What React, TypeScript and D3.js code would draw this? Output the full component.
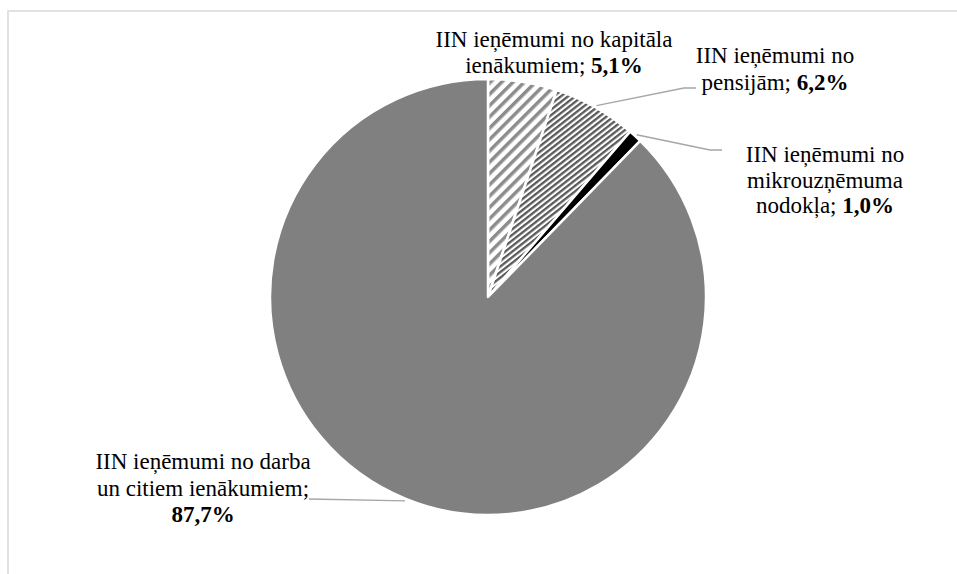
import React from "react";
import * as d3 from "d3";

const categories = [
  "IIN ieņēmumi no kapitāla ienākumiem",
  "IIN ieņēmumi no pensijām",
  "IIN ieņēmumi no mikrouzņēmuma nodokļa",
  "IIN ieņēmumi no darba un citiem ienākumiem",
];
const values = [5.1, 6.2, 1.0, 87.7];
const valueLabels = ["5,1%", "6,2%", "1,0%", "87,7%"];
const labelLines: string[][] = [
  ["IIN ieņēmumi no kapitāla", "ienākumiem;"],
  ["IIN ieņēmumi no", "pensijām;"],
  ["IIN ieņēmumi no", "mikrouzņēmuma", "nodokļa;"],
  ["IIN ieņēmumi no darba", "un citiem ienākumiem;", ""],
];

// layout (not data)
const W = 957;
const H = 574;
const CX = 488;
const CY = 297;
const R = 218;
const FONT = 23;
const labelPos = [
  { x: 554, y: 47, lh: 26 },
  { x: 775, y: 63, lh: 27 },
  { x: 825, y: 162, lh: 25.5 },
  { x: 203, y: 469, lh: 26.5 },
];
const leaderEnds: ([number, number][] | null)[] = [
  null,
  [[684, 88], [696, 88]],
  [[710, 150], [722, 150]],
  [[309, 499]],
];

export default function App() {
  const pie = d3.pie<number>().sort(null).value((d) => d).startAngle(0).endAngle(2 * Math.PI);
  const arcs = pie(values);
  const arc = d3.arc<d3.PieArcDatum<number>>().innerRadius(0).outerRadius(R);
  const fills = ["url(#wideUp)", "url(#darkDown)", "#000000", "#808080"];
  const serif = "'Liberation Serif', 'Times New Roman', Times, serif";

  return (
    <svg width={W} height={H} style={{ position: "absolute", left: 0, top: 0 }}>
      <defs>
        <pattern id="wideUp" patternUnits="userSpaceOnUse" width={8} height={8}
          patternTransform="rotate(45)">
          <rect width={8} height={8} fill="#ffffff" />
          <rect width={3.5} height={8} fill="#8c8c8c" />
        </pattern>
        <pattern id="darkDown" patternUnits="userSpaceOnUse" width={4.4} height={4.4}
          patternTransform="rotate(-38)">
          <rect width={4.4} height={4.4} fill="#ffffff" />
          <rect width={4.4} height={2.3} fill="#5a5a5a" />
        </pattern>
      </defs>
      <rect x={0} y={0} width={W} height={H} fill="#ffffff" />
      <rect x={8} y={11} width={W + 10} height={H + 10} fill="none" stroke="#d9d9d9" strokeWidth={1.5} />
      <g transform={`translate(${CX},${CY})`}>
        {arcs.map((a, i) => (
          <path key={categories[i]} d={arc(a) || ""} fill={fills[i]} stroke="#ffffff" strokeWidth={2.5} strokeLinejoin="round" />
        ))}
      </g>
      {arcs.map((a, i) => {
        const ends = leaderEnds[i];
        if (!ends) return null;
        const mid = (a.startAngle + a.endAngle) / 2;
        const sx = CX + (R + 2) * Math.sin(mid);
        const sy = CY - (R + 2) * Math.cos(mid);
        const pts: [number, number][] = [[sx, sy], ...ends];
        return (
          <path key={"l" + i} d={d3.line()(pts) || ""} fill="none" stroke="#a6a6a6" strokeWidth={1.3} />
        );
      })}
      {labelLines.map((lines, i) => {
        const p = labelPos[i];
        const last = lines.length - 1;
        return (
          <text key={"t" + i} x={p.x} textAnchor="middle" fill="#000"
            style={{ fontFamily: serif, fontSize: FONT }}>
            {lines.map((ln, j) => (
              <tspan key={j} x={p.x} y={p.y + j * p.lh}>
                {ln}
                {j === last ? (
                  <tspan fontWeight="bold">{ln === "" ? valueLabels[i] : " " + valueLabels[i]}</tspan>
                ) : null}
              </tspan>
            ))}
          </text>
        );
      })}
    </svg>
  );
}
